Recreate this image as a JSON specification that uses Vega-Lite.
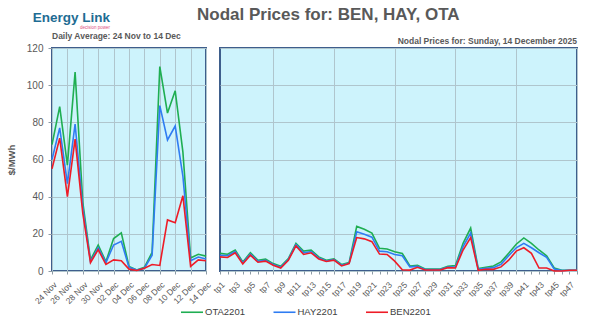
{
  "$schema": "https://vega.github.io/schema/vega-lite/v6.json",
  "autosize": {"type": "none"},
  "padding": {"left": 52, "top": 48, "right": 548, "bottom": 278},
  "background": "white",
  "title": {"text": "Energy Link", "subtitle": "decision power", "anchor": "start", "frame": "group", "align": "right", "dx": 58, "offset": -24, "fontSize": 13.5, "fontWeight": "bold", "color": "#1E6C93", "subtitleColor": "#E0507F", "subtitleFontSize": 4.5, "subtitlePadding": 1},
  "datasets": {
    "daily": [
      {"day": "24 Nov", "node": "OTA2201", "price": 68}, {"day": "24 Nov", "node": "HAY2201", "price": 60}, {"day": "24 Nov", "node": "BEN2201", "price": 55},
      {"day": "25 Nov", "node": "OTA2201", "price": 88.5}, {"day": "25 Nov", "node": "HAY2201", "price": 77}, {"day": "25 Nov", "node": "BEN2201", "price": 71.5},
      {"day": "26 Nov", "node": "OTA2201", "price": 57}, {"day": "26 Nov", "node": "HAY2201", "price": 47}, {"day": "26 Nov", "node": "BEN2201", "price": 40},
      {"day": "27 Nov", "node": "OTA2201", "price": 107}, {"day": "27 Nov", "node": "HAY2201", "price": 79}, {"day": "27 Nov", "node": "BEN2201", "price": 71},
      {"day": "28 Nov", "node": "OTA2201", "price": 37}, {"day": "28 Nov", "node": "HAY2201", "price": 34}, {"day": "28 Nov", "node": "BEN2201", "price": 31},
      {"day": "29 Nov", "node": "OTA2201", "price": 6}, {"day": "29 Nov", "node": "HAY2201", "price": 5}, {"day": "29 Nov", "node": "BEN2201", "price": 4.5},
      {"day": "30 Nov", "node": "OTA2201", "price": 14}, {"day": "30 Nov", "node": "HAY2201", "price": 12.5}, {"day": "30 Nov", "node": "BEN2201", "price": 11.5},
      {"day": "01 Dec", "node": "OTA2201", "price": 5}, {"day": "01 Dec", "node": "HAY2201", "price": 4.5}, {"day": "01 Dec", "node": "BEN2201", "price": 3.5},
      {"day": "02 Dec", "node": "OTA2201", "price": 17.5}, {"day": "02 Dec", "node": "HAY2201", "price": 14}, {"day": "02 Dec", "node": "BEN2201", "price": 6},
      {"day": "03 Dec", "node": "OTA2201", "price": 20.5}, {"day": "03 Dec", "node": "HAY2201", "price": 16}, {"day": "03 Dec", "node": "BEN2201", "price": 5.5},
      {"day": "04 Dec", "node": "OTA2201", "price": 2.5}, {"day": "04 Dec", "node": "HAY2201", "price": 2}, {"day": "04 Dec", "node": "BEN2201", "price": 1},
      {"day": "05 Dec", "node": "OTA2201", "price": 0.5}, {"day": "05 Dec", "node": "HAY2201", "price": 0.5}, {"day": "05 Dec", "node": "BEN2201", "price": 0.3},
      {"day": "06 Dec", "node": "OTA2201", "price": 2}, {"day": "06 Dec", "node": "HAY2201", "price": 1.5}, {"day": "06 Dec", "node": "BEN2201", "price": 1.5},
      {"day": "07 Dec", "node": "OTA2201", "price": 10}, {"day": "07 Dec", "node": "HAY2201", "price": 8.5}, {"day": "07 Dec", "node": "BEN2201", "price": 3.5},
      {"day": "08 Dec", "node": "OTA2201", "price": 110}, {"day": "08 Dec", "node": "HAY2201", "price": 89}, {"day": "08 Dec", "node": "BEN2201", "price": 3},
      {"day": "09 Dec", "node": "OTA2201", "price": 85}, {"day": "09 Dec", "node": "HAY2201", "price": 70.5}, {"day": "09 Dec", "node": "BEN2201", "price": 27.5},
      {"day": "10 Dec", "node": "OTA2201", "price": 97}, {"day": "10 Dec", "node": "HAY2201", "price": 78}, {"day": "10 Dec", "node": "BEN2201", "price": 26},
      {"day": "11 Dec", "node": "OTA2201", "price": 64}, {"day": "11 Dec", "node": "HAY2201", "price": 51}, {"day": "11 Dec", "node": "BEN2201", "price": 40.5},
      {"day": "12 Dec", "node": "OTA2201", "price": 7}, {"day": "12 Dec", "node": "HAY2201", "price": 5.5}, {"day": "12 Dec", "node": "BEN2201", "price": 2.5},
      {"day": "13 Dec", "node": "OTA2201", "price": 9}, {"day": "13 Dec", "node": "HAY2201", "price": 7.5}, {"day": "13 Dec", "node": "BEN2201", "price": 6},
      {"day": "14 Dec", "node": "OTA2201", "price": 8}, {"day": "14 Dec", "node": "HAY2201", "price": 6.5}, {"day": "14 Dec", "node": "BEN2201", "price": 5.5}
    ],
    "periods": [
      {"tp": "tp1", "node": "OTA2201", "price": 9.5}, {"tp": "tp1", "node": "HAY2201", "price": 8.5}, {"tp": "tp1", "node": "BEN2201", "price": 7.6},
      {"tp": "tp2", "node": "OTA2201", "price": 9}, {"tp": "tp2", "node": "HAY2201", "price": 8.2}, {"tp": "tp2", "node": "BEN2201", "price": 7.3},
      {"tp": "tp3", "node": "OTA2201", "price": 11.3}, {"tp": "tp3", "node": "HAY2201", "price": 10.5}, {"tp": "tp3", "node": "BEN2201", "price": 9.8},
      {"tp": "tp4", "node": "OTA2201", "price": 4.9}, {"tp": "tp4", "node": "HAY2201", "price": 4.3}, {"tp": "tp4", "node": "BEN2201", "price": 3.8},
      {"tp": "tp5", "node": "OTA2201", "price": 9.8}, {"tp": "tp5", "node": "HAY2201", "price": 9.1}, {"tp": "tp5", "node": "BEN2201", "price": 8.5},
      {"tp": "tp6", "node": "OTA2201", "price": 5.8}, {"tp": "tp6", "node": "HAY2201", "price": 5.2}, {"tp": "tp6", "node": "BEN2201", "price": 4.7},
      {"tp": "tp7", "node": "OTA2201", "price": 6.4}, {"tp": "tp7", "node": "HAY2201", "price": 5.8}, {"tp": "tp7", "node": "BEN2201", "price": 5.3},
      {"tp": "tp8", "node": "OTA2201", "price": 4}, {"tp": "tp8", "node": "HAY2201", "price": 3.5}, {"tp": "tp8", "node": "BEN2201", "price": 3.1},
      {"tp": "tp9", "node": "OTA2201", "price": 2.5}, {"tp": "tp9", "node": "HAY2201", "price": 2}, {"tp": "tp9", "node": "BEN2201", "price": 1.6},
      {"tp": "tp10", "node": "OTA2201", "price": 6.7}, {"tp": "tp10", "node": "HAY2201", "price": 6.2}, {"tp": "tp10", "node": "BEN2201", "price": 5.8},
      {"tp": "tp11", "node": "OTA2201", "price": 14.9}, {"tp": "tp11", "node": "HAY2201", "price": 14.2}, {"tp": "tp11", "node": "BEN2201", "price": 13.5},
      {"tp": "tp12", "node": "OTA2201", "price": 10.7}, {"tp": "tp12", "node": "HAY2201", "price": 9.8}, {"tp": "tp12", "node": "BEN2201", "price": 8.9},
      {"tp": "tp13", "node": "OTA2201", "price": 11.3}, {"tp": "tp13", "node": "HAY2201", "price": 10.5}, {"tp": "tp13", "node": "BEN2201", "price": 9.8},
      {"tp": "tp14", "node": "OTA2201", "price": 7.6}, {"tp": "tp14", "node": "HAY2201", "price": 7}, {"tp": "tp14", "node": "BEN2201", "price": 6.5},
      {"tp": "tp15", "node": "OTA2201", "price": 5.8}, {"tp": "tp15", "node": "HAY2201", "price": 5.4}, {"tp": "tp15", "node": "BEN2201", "price": 5.1},
      {"tp": "tp16", "node": "OTA2201", "price": 6.5}, {"tp": "tp16", "node": "HAY2201", "price": 6.1}, {"tp": "tp16", "node": "BEN2201", "price": 5.8},
      {"tp": "tp17", "node": "OTA2201", "price": 3.5}, {"tp": "tp17", "node": "HAY2201", "price": 3.1}, {"tp": "tp17", "node": "BEN2201", "price": 2.7},
      {"tp": "tp18", "node": "OTA2201", "price": 4.5}, {"tp": "tp18", "node": "HAY2201", "price": 4.2}, {"tp": "tp18", "node": "BEN2201", "price": 4},
      {"tp": "tp19", "node": "OTA2201", "price": 24}, {"tp": "tp19", "node": "HAY2201", "price": 21.1}, {"tp": "tp19", "node": "BEN2201", "price": 18},
      {"tp": "tp20", "node": "OTA2201", "price": 22.5}, {"tp": "tp20", "node": "HAY2201", "price": 19.8}, {"tp": "tp20", "node": "BEN2201", "price": 17.3},
      {"tp": "tp21", "node": "OTA2201", "price": 20.4}, {"tp": "tp21", "node": "HAY2201", "price": 18.2}, {"tp": "tp21", "node": "BEN2201", "price": 15.8},
      {"tp": "tp22", "node": "OTA2201", "price": 12.2}, {"tp": "tp22", "node": "HAY2201", "price": 10.7}, {"tp": "tp22", "node": "BEN2201", "price": 9.1},
      {"tp": "tp23", "node": "OTA2201", "price": 11.8}, {"tp": "tp23", "node": "HAY2201", "price": 10.4}, {"tp": "tp23", "node": "BEN2201", "price": 8.9},
      {"tp": "tp24", "node": "OTA2201", "price": 10.4}, {"tp": "tp24", "node": "HAY2201", "price": 8.9}, {"tp": "tp24", "node": "BEN2201", "price": 5.3},
      {"tp": "tp25", "node": "OTA2201", "price": 9.5}, {"tp": "tp25", "node": "HAY2201", "price": 8.2}, {"tp": "tp25", "node": "BEN2201", "price": 0.7},
      {"tp": "tp26", "node": "OTA2201", "price": 2.7}, {"tp": "tp26", "node": "HAY2201", "price": 2.2}, {"tp": "tp26", "node": "BEN2201", "price": 0.5},
      {"tp": "tp27", "node": "OTA2201", "price": 3.1}, {"tp": "tp27", "node": "HAY2201", "price": 2.5}, {"tp": "tp27", "node": "BEN2201", "price": 2},
      {"tp": "tp28", "node": "OTA2201", "price": 1.1}, {"tp": "tp28", "node": "HAY2201", "price": 0.8}, {"tp": "tp28", "node": "BEN2201", "price": 0.5},
      {"tp": "tp29", "node": "OTA2201", "price": 1.1}, {"tp": "tp29", "node": "HAY2201", "price": 0.8}, {"tp": "tp29", "node": "BEN2201", "price": 0.5},
      {"tp": "tp30", "node": "OTA2201", "price": 1.1}, {"tp": "tp30", "node": "HAY2201", "price": 0.8}, {"tp": "tp30", "node": "BEN2201", "price": 0.5},
      {"tp": "tp31", "node": "OTA2201", "price": 2.5}, {"tp": "tp31", "node": "HAY2201", "price": 2.1}, {"tp": "tp31", "node": "BEN2201", "price": 1.8},
      {"tp": "tp32", "node": "OTA2201", "price": 2.9}, {"tp": "tp32", "node": "HAY2201", "price": 2.2}, {"tp": "tp32", "node": "BEN2201", "price": 1.6},
      {"tp": "tp33", "node": "OTA2201", "price": 14.9}, {"tp": "tp33", "node": "HAY2201", "price": 13.1}, {"tp": "tp33", "node": "BEN2201", "price": 11.3},
      {"tp": "tp34", "node": "OTA2201", "price": 23.1}, {"tp": "tp34", "node": "HAY2201", "price": 20.4}, {"tp": "tp34", "node": "BEN2201", "price": 18},
      {"tp": "tp35", "node": "OTA2201", "price": 1.3}, {"tp": "tp35", "node": "HAY2201", "price": 0.9}, {"tp": "tp35", "node": "BEN2201", "price": 0.4},
      {"tp": "tp36", "node": "OTA2201", "price": 2}, {"tp": "tp36", "node": "HAY2201", "price": 1.4}, {"tp": "tp36", "node": "BEN2201", "price": 0.9},
      {"tp": "tp37", "node": "OTA2201", "price": 2.7}, {"tp": "tp37", "node": "HAY2201", "price": 1.8}, {"tp": "tp37", "node": "BEN2201", "price": 0.9},
      {"tp": "tp38", "node": "OTA2201", "price": 4.9}, {"tp": "tp38", "node": "HAY2201", "price": 3.6}, {"tp": "tp38", "node": "BEN2201", "price": 2.2},
      {"tp": "tp39", "node": "OTA2201", "price": 9.5}, {"tp": "tp39", "node": "HAY2201", "price": 8.2}, {"tp": "tp39", "node": "BEN2201", "price": 5.8},
      {"tp": "tp40", "node": "OTA2201", "price": 14.4}, {"tp": "tp40", "node": "HAY2201", "price": 12.5}, {"tp": "tp40", "node": "BEN2201", "price": 10.7},
      {"tp": "tp41", "node": "OTA2201", "price": 17.8}, {"tp": "tp41", "node": "HAY2201", "price": 14.9}, {"tp": "tp41", "node": "BEN2201", "price": 12.5},
      {"tp": "tp42", "node": "OTA2201", "price": 14.9}, {"tp": "tp42", "node": "HAY2201", "price": 12.5}, {"tp": "tp42", "node": "BEN2201", "price": 9.5},
      {"tp": "tp43", "node": "OTA2201", "price": 11.3}, {"tp": "tp43", "node": "HAY2201", "price": 9.8}, {"tp": "tp43", "node": "BEN2201", "price": 1.6},
      {"tp": "tp44", "node": "OTA2201", "price": 8.2}, {"tp": "tp44", "node": "HAY2201", "price": 7.3}, {"tp": "tp44", "node": "BEN2201", "price": 1.6},
      {"tp": "tp45", "node": "OTA2201", "price": 1.6}, {"tp": "tp45", "node": "HAY2201", "price": 1.1}, {"tp": "tp45", "node": "BEN2201", "price": 0},
      {"tp": "tp46", "node": "OTA2201", "price": 0.4}, {"tp": "tp46", "node": "HAY2201", "price": 0.3}, {"tp": "tp46", "node": "BEN2201", "price": 0},
      {"tp": "tp47", "node": "OTA2201", "price": 0.4}, {"tp": "tp47", "node": "HAY2201", "price": 0.4}, {"tp": "tp47", "node": "BEN2201", "price": 0.4},
      {"tp": "tp48", "node": "OTA2201", "price": 0.4}, {"tp": "tp48", "node": "HAY2201", "price": 0.4}, {"tp": "tp48", "node": "BEN2201", "price": 0.4}
    ]
  },
  "vconcat": [
    {
      "title": {"text": "Nodal Prices for: BEN, HAY, OTA", "anchor": "start", "frame": "group", "dx": 145, "offset": 7, "fontSize": 17, "fontWeight": "bold", "color": "#595959"},
      "spacing": 14,
      "bounds": "flush",
      "resolve": {"scale": {"color": "shared"}, "legend": {"color": "shared"}},
      "hconcat": [
        {
          "width": 154,
          "height": 223,
          "title": {"text": "Daily Average: 24 Nov to 14 Dec", "anchor": "start", "frame": "group", "fontSize": 8.5, "fontWeight": "bold", "color": "#595959", "offset": 3},
          "data": {"name": "daily"},
          "mark": {"type": "line", "strokeWidth": 1.6},
          "encoding": {
            "x": {"field": "day", "type": "ordinal", "sort": null, "scale": {"type": "point", "padding": 0},
                  "axis": {"title": null, "values": ["24 Nov", "26 Nov", "28 Nov", "30 Nov", "02 Dec", "04 Dec", "06 Dec", "08 Dec", "10 Dec", "12 Dec", "14 Dec"], "labelAngle": -45, "labelFontSize": 8.5, "grid": true, "labelPadding": 6}},
            "y": {"field": "price", "type": "quantitative", "scale": {"domain": [0, 120], "nice": false},
                  "axis": {"title": "$/MWh", "values": [0, 20, 40, 60, 80, 100, 120], "grid": true, "tickSize": 4, "labelPadding": 5, "titleFontSize": 9.5, "titleFontWeight": "bold", "titlePadding": 10}},
            "color": {"field": "node", "type": "nominal", "scale": {"domain": ["OTA2201", "HAY2201", "BEN2201"], "range": ["#1FAE52", "#2F7CF2", "#EE1C27"]},
                      "legend": {"title": null, "orient": "none", "legendX": 128, "legendY": 252}}
          }
        },
        {
          "width": 357,
          "height": 223,
          "title": {"text": "Nodal Prices for: Sunday, 14 December 2025", "anchor": "end", "frame": "group", "fontSize": 8.5, "fontWeight": "bold", "color": "#595959", "offset": 3},
          "data": {"name": "periods"},
          "mark": {"type": "line", "strokeWidth": 1.6},
          "encoding": {
            "x": {"field": "tp", "type": "ordinal", "sort": null, "scale": {"type": "point", "padding": 0},
                  "axis": {"title": null, "labelAngle": -45, "labelFontSize": 8.5, "labelPadding": 6, "labelOverlap": false, "labelExpr": "parseInt(substring(datum.value, 2)) % 2 == 1 ? datum.value : ''", "grid": true, "gridOpacity": {"condition": {"test": "parseInt(substring(datum.value, 2)) % 8 == 0", "value": 1}, "value": 0}}},
            "y": {"field": "price", "type": "quantitative", "scale": {"domain": [0, 120], "nice": false},
                  "axis": {"title": null, "values": [0, 20, 40, 60, 80, 100, 120], "grid": true, "labels": false, "ticks": false}},
            "color": {"field": "node", "type": "nominal", "scale": {"domain": ["OTA2201", "HAY2201", "BEN2201"], "range": ["#1FAE52", "#2F7CF2", "#EE1C27"]},
                      "legend": {"title": null, "orient": "none", "legendX": 128, "legendY": 252}}
          }
        }
      ]
    }
  ],
  "bounds": "flush",
  "config": {
    "font": "Liberation Sans",
    "view": {"stroke": "#3E5E8C", "strokeWidth": 2, "fill": "#CDF3FC"},
    "axis": {"labelColor": "#595959", "titleColor": "#595959", "gridColor": "#AFC5CD", "gridWidth": 1, "domain": false, "tickColor": "#8C9AA4", "tickSize": 3, "labelFontSize": 10},
    "legend": {"direction": "horizontal", "symbolType": "stroke", "symbolSize": 484, "symbolStrokeWidth": 1.6, "labelFontSize": 9.5, "labelColor": "#404040", "labelOffset": 1, "columnPadding": 24.5}
  }
}
